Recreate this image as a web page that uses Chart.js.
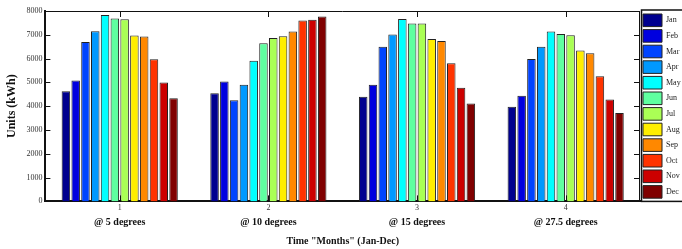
<!DOCTYPE html>
<html>
<head>
<meta charset="utf-8">
<script src="https://cdn.jsdelivr.net/npm/chart.js@4.4.1/dist/chart.umd.min.js"></script>
<style>
    html, body { margin: 0; padding: 0; background: #fff; }
    #wrap { width: 682px; height: 249px; position: relative; }
</style>
</head>
<body>
<div id="wrap"><canvas id="unitsChart"></canvas></div>
<script>
    "use strict";
    // months = legend entries, positions = x categories
    const months = ["Jan", "Feb", "Mar", "Apr", "May", "Jun", "Jul", "Aug", "Sep", "Oct", "Nov", "Dec"];
    const positions = ["1", "2", "3", "4"];
    const angle_labels = ["@ 5 degrees", "@ 10 degrees", "@ 15 degrees", "@ 27.5 degrees"];
    const y_ticks = [0, 1000, 2000, 3000, 4000, 5000, 6000, 7000, 8000];

    // units (kWh) per month, one array per tilt angle
    const deg_5 = [4630, 5080, 6700, 7150, 7830, 7680, 7650, 6970, 6930, 5970, 5000, 4330];
    const deg_10 = [4540, 5040, 4250, 4900, 5910, 6650, 6870, 6940, 7140, 7600, 7630, 7770];
    const deg_15 = [4400, 4900, 6500, 7010, 7660, 7480, 7480, 6820, 6740, 5800, 4770, 4110];
    const deg_27_5 = [3980, 4440, 5980, 6500, 7140, 7030, 6980, 6340, 6220, 5260, 4280, 3710];

    const month_colors = [
        "#00008f", "#0000df", "#0044ff", "#0099ff", "#00ffff", "#5fffa0",
        "#aaff55", "#ffee00", "#ff8800", "#ff3300", "#cc0000", "#800000"
    ];

    const serif = "'Liberation Serif', 'Times New Roman', serif";
    const by_angle = [deg_5, deg_10, deg_15, deg_27_5];

    const datasets = months.map(function (m, i) {
        return {
            label: m,
            data: by_angle.map(function (arr) { return arr[i]; }),
            backgroundColor: month_colors[i],
            borderColor: "#222",
            borderWidth: 1,
            categoryPercentage: 0.79,
            barPercentage: 0.87,
        };
    });

    // matlab style frame: box round the plot, inward ticks, framed legend
    const framePlugin = {
        id: "frame",
        afterDraw: function (chart) {
            const ctx = chart.ctx;
            const a = chart.chartArea;
            const ys = chart.scales.y;
            const xs = chart.scales.x;
            ctx.save();
            ctx.strokeStyle = "#111";
            ctx.lineWidth = 1;
            ctx.beginPath();
            ctx.moveTo(a.left, a.top + 0.5);
            ctx.lineTo(a.right, a.top + 0.5);
            ctx.moveTo(a.right - 0.5, a.top);
            ctx.lineTo(a.right - 0.5, a.bottom);
            ys.ticks.forEach(function (t) {
                const py = Math.round(ys.getPixelForValue(t.value)) + 0.5;
                ctx.moveTo(a.left, py);
                ctx.lineTo(a.left + 5, py);
                ctx.moveTo(a.right, py);
                ctx.lineTo(a.right - 6, py);
            });
            positions.forEach(function (p, i) {
                const px = Math.round(xs.getPixelForValue(i)) + 0.5;
                ctx.moveTo(px, a.top);
                ctx.lineTo(px, a.top + 6);
                ctx.moveTo(px, a.bottom);
                ctx.lineTo(px, a.bottom - 6);
            });
            ctx.stroke();
            // legend frame
            ctx.lineWidth = 1.5;
            ctx.strokeRect(a.right + 1.5, a.top - 1, chart.width - a.right + 2, a.bottom - a.top + 1);
            ctx.restore();
        },
    };

    const config = {
        type: "bar",
        data: {
            labels: positions,
            datasets: datasets,
        },
        options: {
            responsive: true,
            maintainAspectRatio: false,
            animation: false,
            layout: {
                padding: { top: 11, left: 2, right: 0, bottom: 2 },
            },
            scales: {
                x: {
                    type: "category",
                    grid: { display: false, drawTicks: false },
                    border: { display: true, color: "#111", width: 2 },
                    ticks: {
                        color: "#333",
                        padding: 2,
                        font: { family: serif, size: 8 },
                    },
                },
                x2: {
                    type: "category",
                    labels: angle_labels,
                    position: "bottom",
                    grid: { display: false, drawTicks: false },
                    border: { display: false },
                    ticks: {
                        color: "#111",
                        padding: 1,
                        font: { family: serif, size: 10, weight: "bold" },
                    },
                    title: {
                        display: true,
                        text: 'Time "Months" (Jan-Dec)',
                        color: "#111",
                        padding: { top: 6, bottom: 0 },
                        font: { family: serif, size: 10, weight: "bold" },
                    },
                },
                y: {
                    min: 0,
                    max: 8000,
                    afterBuildTicks: function (scale) {
                        scale.ticks = y_ticks.map(function (v) { return { value: v }; });
                    },
                    grid: { display: false, drawTicks: false },
                    border: { display: true, color: "#111", width: 2 },
                    ticks: {
                        color: "#333",
                        padding: 3,
                        font: { family: serif, size: 8 },
                        callback: function (value) {
                            return String(value);
                        },
                    },
                    title: {
                        display: true,
                        text: "Units (kWh)",
                        color: "#111",
                        padding: { top: 3, bottom: 4 },
                        font: { family: serif, size: 12, weight: "bold" },
                    },
                },
            },
            plugins: {
                legend: {
                    position: "right",
                    align: "start",
                    maxWidth: 42,
                    labels: {
                        boxWidth: 19,
                        boxHeight: 12.6,
                        padding: 3,
                        color: "#222",
                        font: { family: serif, size: 8 },
                    },
                },
                tooltip: { enabled: false },
            },
        },
        plugins: [framePlugin],
    };

    new Chart(document.getElementById("unitsChart"), config);
</script>
</body>
</html>
